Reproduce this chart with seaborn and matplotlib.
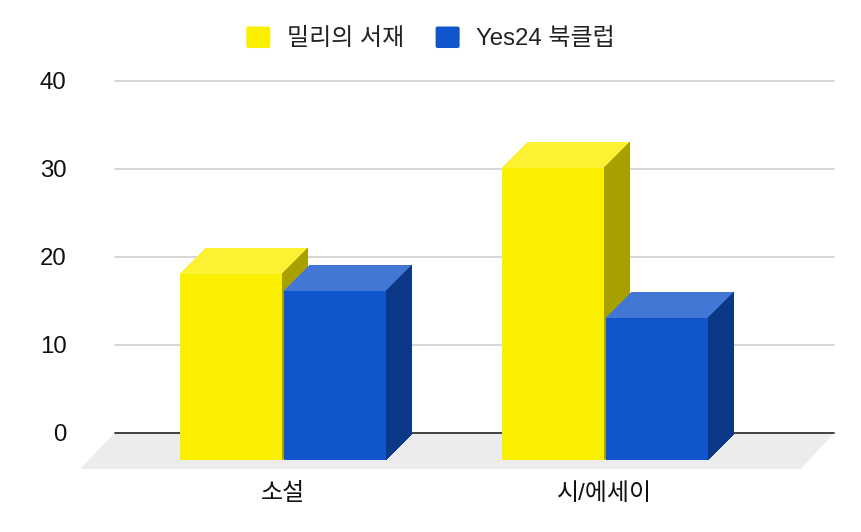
import matplotlib
matplotlib.use("Agg")
import matplotlib.pyplot as plt
import pandas as pd
import seaborn as sns
from matplotlib.legend_handler import HandlerPatch
from matplotlib.patches import FancyBboxPatch, Polygon, Rectangle
from matplotlib.transforms import ScaledTranslation

categories = ["소설", "시/에세이"]
series_names = ["밀리의 서재", "Yes24 북클럽"]
millie_values = [18, 30]
yes24_values = [16, 13]
y_ticks = [0, 10, 20, 30, 40]

front_colors = ["#FBEF00", "#1155CC"]
top_colors = ["#FCF233", "#4377D6"]
side_colors = ["#A89F00", "#0B3988"]

sns.set_theme(style="white")
plt.rcParams["font.family"] = ["Liberation Sans", "Noto Sans CJK KR"]

W, H = 862, 532
FS = 17.3
fig = plt.figure(figsize=(W / 100, H / 100), dpi=100)
ax = fig.add_axes([115 / W, (H - 433) / H, 719 / W, 352 / H])

df = pd.DataFrame({
    "category": categories * 2,
    "series": [series_names[0]] * 2 + [series_names[1]] * 2,
    "value": millie_values + yes24_values,
})
sns.barplot(data=df, x="category", y="value", hue="series", hue_order=series_names,
            palette=front_colors, width=0.646, gap=0.02, saturation=1, ax=ax,
            linewidth=0, legend=True)

px_x = 1 / 322
px_y = 40 / 352
ax.set_xlim((115 - 283) * px_x, (834 - 283) * px_x)
ax.set_ylim(0, 40)
ax.set_yticks(y_ticks)
ax.set_xlabel("")
ax.set_ylabel("")
sns.despine(ax=ax, left=True, bottom=True, top=True, right=True)
ax.tick_params(axis="both", length=0, labelsize=FS, labelcolor="#111111")
ax.tick_params(axis="y", pad=35)
ax.tick_params(axis="x", pad=36)
nudge = ScaledTranslation(0, 0.5 / 100, fig.dpi_scale_trans)
for lab in ax.get_yticklabels():
    lab.set_transform(lab.get_transform() + nudge)

for v in y_ticks[1:]:
    ax.axhline(v, color="#CCCCCC", lw=1.1, zorder=1, clip_on=False)
ax.axhline(0, color="#333333", lw=1.3, zorder=2, clip_on=False)

# floor
x0, x1 = ax.get_xlim()
floor_y = -36 * px_y
ax.add_patch(Polygon([(x0, 0), (x1, 0), (x1 - 33 * px_x, floor_y), (x0 - 35 * px_x, floor_y)],
                     closed=True, fc="#ECECEC", ec="none", zorder=1.5, clip_on=False))

# 3D extrusion
dx, dy = 26 * px_x, 26 * px_y
bottom = -27 * px_y
lift = 0.4 * px_y
z = 3.0
for cat_i in range(len(categories)):
    for s_i, container in enumerate(ax.containers):
        bar = container.patches[cat_i]
        v = bar.get_height() + lift
        left = bar.get_x()
        right = left + bar.get_width()
        ax.add_patch(Polygon([(left, v), (left + dx, v + dy), (right + dx, v + dy), (right, v)],
                             closed=True, fc=top_colors[s_i], ec="none", zorder=z, clip_on=False,
                             antialiased=False))
        ax.add_patch(Polygon([(right, v), (right + dx, v + dy), (right + dx, bottom + dy), (right, bottom)],
                             closed=True, fc=side_colors[s_i], ec="none", zorder=z, clip_on=False,
                             antialiased=False))
        bar.set_y(bottom)
        bar.set_height(v - bottom + 0.4 * px_y)
        bar.set_zorder(z + 0.1)
        bar.set_clip_on(False)
        z += 0.2


class RoundedSwatch(HandlerPatch):
    def create_artists(self, legend, orig_handle, xdescent, ydescent, width, height, fontsize, trans):
        p = FancyBboxPatch((-xdescent, -ydescent), width, height,
                           boxstyle="round,pad=0,rounding_size=1.5",
                           fc=orig_handle.get_facecolor(), ec="none", transform=trans)
        return [p]


handles, labels = ax.get_legend_handles_labels()
ax.legend(handles, labels, loc="center", bbox_to_anchor=(430.5 / W, (H - 38.5) / H),
          bbox_transform=fig.transFigure, ncol=2, frameon=False, fontsize=FS,
          handlelength=1.0, handleheight=1.0, handletextpad=0.68, columnspacing=1.32,
          labelcolor="#222222", handler_map={Rectangle: RoundedSwatch()})

fig.savefig("out.png", dpi=100, facecolor="white")
